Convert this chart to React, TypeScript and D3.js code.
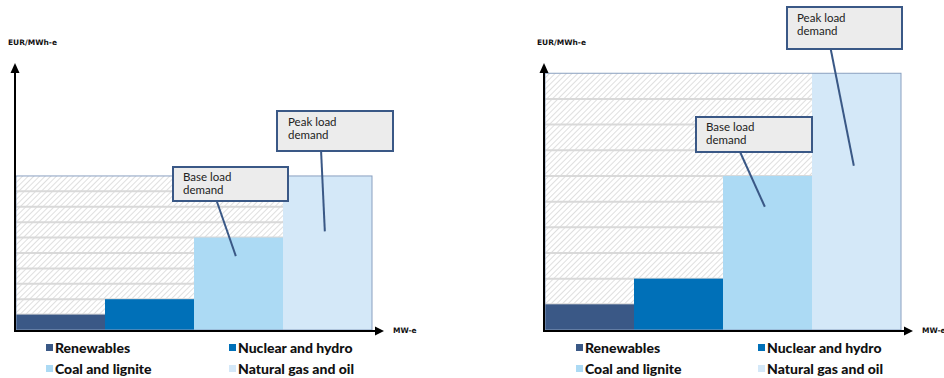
import React from "react";
import * as d3 from "d3";

const categories = ["Renewables", "Nuclear and hydro", "Coal and lignite", "Natural gas and oil"];
const colors = ["#3a5886", "#0070b8", "#acdaf4", "#d4e8f8"];
const leftPrices = [0.6, 1.2, 3.6, 6.0];
const rightPrices = [1, 2, 6, 10];
const capacities = [1, 1, 1, 1];
const yLabel = "EUR/MWh-e";
const xLabel = "MW-e";
const baseLabel = ["Base load", "demand"];
const peakLabel = ["Peak load", "demand"];

const W = 944, H = 378;

type PanelProps = {
  x0: number; x1: number; prices: number[]; id: string;
  base: { x: number; y: number; w: number; h: number; tx: number; ty: number };
  peak: { x: number; y: number; w: number; h: number; tx: number; ty: number };
  legendX: number[];
};

const yScale = d3.scaleLinear().domain([0, 10.4]).range([330, 63]);

function Panel({ x0, x1, prices, id, base, peak, legendX }: PanelProps) {
  const total = d3.sum(capacities);
  const x = d3.scaleLinear().domain([0, total]).range([x0, x1]);
  const cum = d3.cumsum(capacities);
  const starts = capacities.map((c, i) => cum[i] - c);
  const max = d3.max(prices) as number;
  const gridStep = max / 10;
  const grid = d3.range(1, 10).map((k) => k * gridStep);
  const axisY = yScale(0);
  const axisX = x0 - 1;
  const callout = (b: PanelProps["base"], lines: string[], barIdx: number) => {
    const tipX = x(starts[barIdx] + 0.47);
    const tipY = yScale(prices[barIdx]) + (axisY - yScale(prices[barIdx])) * (barIdx === 3 ? 0.36 : 0.2);
    return (
      <g>
        <line x1={b.x + b.w * 0.38} y1={b.y + b.h} x2={tipX} y2={tipY} stroke="#3a5886" strokeWidth={2} />
        <rect x={b.x} y={b.y} width={b.w} height={b.h} fill="#ececec" stroke="#3a5886" strokeWidth={2} />
        {lines.map((l, i) => (
          <text key={i} x={b.x + b.tx} y={b.y + b.ty + i * 13} fontFamily="Lato" fontSize={11.5} fill="#222">{l}</text>
        ))}
      </g>
    );
  };
  return (
    <g>
      <rect x={x0} y={yScale(max)} width={x1 - x0} height={axisY - yScale(max)} fill={`url(#hatch${id})`} />
      {grid.map((g, i) => (
        <line key={i} x1={x0} x2={x1} y1={yScale(g)} y2={yScale(g)} stroke="#d9d9d9" strokeWidth={2} />
      ))}
      {prices.map((p, i) => (
        <rect key={i} x={x(starts[i])} y={yScale(p)} width={x(cum[i]) - x(starts[i])} height={axisY - yScale(p)} fill={colors[i]} />
      ))}
      <rect x={x0} y={yScale(max)} width={x1 - x0} height={axisY - yScale(max)} fill="none" stroke="#8aa0c0" strokeWidth={1} />
      <line x1={axisX} y1={axisY + 1} x2={axisX} y2={yScale(10.4) + 8} stroke="#000" strokeWidth={2} />
      <path d={`M${axisX - 4.5},${yScale(10.4) + 10} L${axisX},${yScale(10.4)} L${axisX + 4.5},${yScale(10.4) + 10} Z`} fill="#000" />
      <line x1={axisX - 1} y1={axisY + 1} x2={x1 + 4} y2={axisY + 1} stroke="#000" strokeWidth={2} />
      <path d={`M${x1 + 3},${axisY - 3.5} L${x1 + 12},${axisY + 1} L${x1 + 3},${axisY + 5.5} Z`} fill="#000" />
      <text x={axisX - 7} y={45} fontFamily="DejaVu Sans" fontWeight="bold" fontSize={7.5} fill="#111">{yLabel}</text>
      <text x={x1 + 21} y={333} fontFamily="DejaVu Sans" fontWeight="bold" fontSize={7.5} fill="#111">{xLabel}</text>
      {callout(base, baseLabel, 2)}
      {callout(peak, peakLabel, 3)}
      {categories.map((c, i) => (
        <g key={c}>
          <rect x={legendX[i % 2]} y={i < 2 ? 344 : 365} width={7} height={7} fill={colors[i]} />
          <text x={legendX[i % 2] + 9} y={i < 2 ? 353 : 374} fontFamily="Lato" fontWeight={900} fontSize={14} fill="#111">{c}</text>
        </g>
      ))}
    </g>
  );
}

export default function App() {
  return (
    <svg width={W} height={H} style={{ position: "absolute", left: 0, top: 0, background: "#fff" }}>
      <defs>
        {["L", "R"].map((id) => (
          <pattern key={id} id={`hatch${id}`} patternUnits="userSpaceOnUse" width={4} height={4} patternTransform="rotate(45)">
            <rect width={4} height={4} fill="#ffffff" />
            <line x1={0} y1={0} x2={0} y2={4} stroke="#d2d2d2" strokeWidth={1.4} />
          </pattern>
        ))}
      </defs>
      <Panel
        id="L" x0={16} x1={372} prices={leftPrices}
        base={{ x: 173, y: 167, w: 115, h: 34, tx: 10, ty: 14 }}
        peak={{ x: 277, y: 111, w: 116, h: 40, tx: 11, ty: 15 }}
        legendX={[46, 229]}
      />
      <Panel
        id="R" x0={545} x1={901} prices={rightPrices}
        base={{ x: 696, y: 117, w: 116, h: 35, tx: 10, ty: 14 }}
        peak={{ x: 787, y: 7, w: 115, h: 42, tx: 10, ty: 15 }}
        legendX={[576, 758]}
      />
    </svg>
  );
}
